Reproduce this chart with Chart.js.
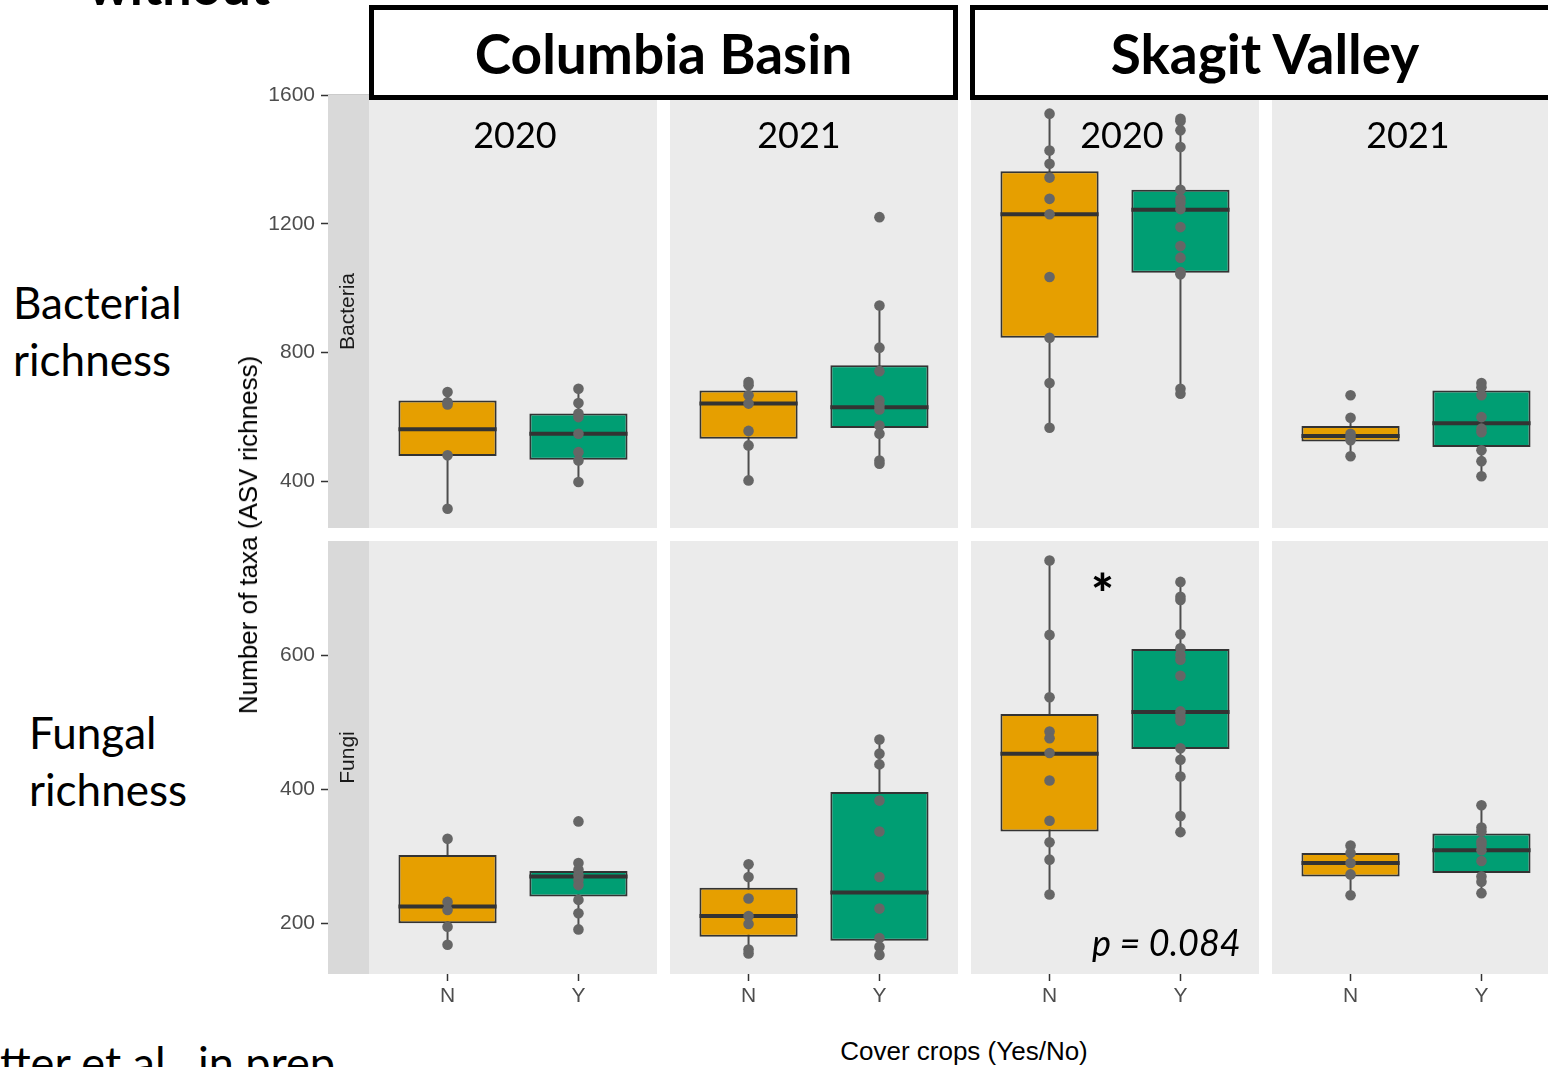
<!DOCTYPE html>
<html>
<head>
<meta charset="utf-8">
<script src="https://cdn.jsdelivr.net/npm/chart.js@4.4.1/dist/chart.umd.min.js"></script>
<style>
  html, body { margin: 0; padding: 0; background: #fff; overflow: hidden; }
  body { position: relative; width: 1548px; height: 1067px; }
  canvas { position: absolute; z-index: 1; }
  .txt { position: absolute; z-index: 4; white-space: nowrap; font-family: Lato, sans-serif; color: #000; line-height: 1; }
  .side { font-size: 44px; line-height: 57px; }
  .hdr { position: absolute; box-sizing: border-box; border: 5px solid #000; background: #fff; z-index: 5;
         display: flex; align-items: center; justify-content: center;
         font-family: Lato, sans-serif; font-weight: bold; font-size: 55px; }
  .year { font-size: 36px; transform: translate(-50%, -50%); }
  .axt { font-family: "Liberation Sans", Arial, sans-serif; font-size: 26px; transform: translate(-50%, -50%); }
</style>
</head>
<body>
<div class="txt" style="left:88px; top:-41px; font-size:52px; font-weight:bold;">without</div>
<div class="txt side" style="left:13px; top:274px;">Bacterial<br>richness</div>
<div class="txt side" style="left:29px; top:704px;">Fungal<br>richness</div>
<div class="txt" style="left:0px; top:1040px; font-size:45px;">tter et al., in prep</div>

<div class="hdr" style="left:369px; top:5px; width:589px; height:95px;">Columbia Basin</div>
<div class="hdr" style="left:970px; top:5px; width:590px; height:95px;">Skagit Valley</div>

<div class="txt axt" style="left:248px; top:535px; transform: translate(-50%, -50%) rotate(-90deg);">Number of taxa (ASV richness)</div>
<div class="txt axt" style="left:964px; top:1051px;">Cover crops (Yes/No)</div>

<div class="txt year" style="left:515px; top:134px;">2020</div>
<div class="txt year" style="left:799px; top:134px;">2021</div>
<div class="txt year" style="left:1122px; top:134px;">2020</div>
<div class="txt year" style="left:1408px; top:134px;">2021</div>

<div class="txt" style="left:1091px; top:566px; font-size:54px; font-weight:900;">*</div>
<div class="txt" style="left:1092px; top:924px; font-size:36px; font-style:italic;">p = 0.084</div>

<script>
// facets: columns are CB 2020, CB 2021, SV 2020, SV 2021; each entry is [N, Y]
const groups = ['N', 'Y'];
const taxa = ['Bacteria', 'Fungi'];
const boxColors = ['#E69F00', '#009E73'];

const bactTicks = [400, 800, 1200, 1600];
const fungTicks = [200, 400, 600];

const bactLower = [[314, 397], [402, 454], [566, 672], [477, 415]];
const bactQ1 = [[478, 466], [532, 565], [846, 1048], [523, 506]];
const bactMedian = [[561, 547], [641, 630], [1230, 1244], [540, 580]];
const bactQ3 = [[651, 610], [682, 760], [1364, 1306], [571, 682]];
const bactUpper = [[677, 687], [708, 946], [1543, 1527], [597, 705]];
const bactPointsN = [
    [677, 645, 638, 480, 314],
    [708, 698, 667, 641, 556, 511, 402],
    [1543, 1428, 1387, 1344, 1278, 1230, 1035, 846, 705, 566],
    [667, 597, 547, 537, 527, 477]
];
const bactPointsY = [
    [687, 643, 610, 599, 547, 490, 464, 397],
    [1221, 946, 815, 742, 651, 635, 623, 573, 547, 464, 454],
    [1527, 1519, 1491, 1439, 1306, 1278, 1266, 1246, 1190, 1131, 1095, 1050, 1043, 687, 672],
    [705, 692, 667, 599, 563, 552, 496, 462, 415]
];

const fungLower = [[168, 191], [155, 153], [243, 336], [242, 245]];
const fungQ1 = [[200, 240], [180, 174], [337, 460], [270, 275]];
const fungMedian = [[225, 270], [211, 246], [453, 515], [290, 309]];
const fungQ3 = [[302, 278], [253, 396], [512, 609], [305, 334]];
const fungUpper = [[326, 290], [288, 474], [741, 709], [316, 376]];
const fungPointsN = [
    [326, 232, 220, 195, 168],
    [288, 269, 237, 211, 199, 161, 155],
    [741, 630, 537, 486, 476, 454, 413, 353, 321, 295, 243],
    [316, 305, 290, 273, 242]
];
const fungPointsY = [
    [352, 290, 280, 272, 265, 257, 235, 215, 191],
    [474, 453, 437, 383, 337, 269, 222, 178, 165, 153],
    [709, 687, 682, 631, 610, 600, 593, 569, 516, 509, 502, 461, 444, 419, 360, 336],
    [376, 343, 337, 322, 317, 309, 293, 270, 262, 245]
];

// layout of the facet grid (pixels)
const panelLeft = [369, 670, 971, 1272];
const panelTop = [95, 541];
const panelW = 288;
const panelH = 433;
const yAxisW = 120;
const xAxisH = 45;
const pad = 14;
const stripW = 41;

const panelDecor = {
    id: 'panelDecor',
    beforeDraw(chart) {
        const a = chart.chartArea;
        const ctx = chart.ctx;
        ctx.save();
        ctx.fillStyle = '#EBEBEB';
        ctx.fillRect(a.left, a.top, a.right - a.left, a.bottom - a.top);
        ctx.restore();
    },
    afterDraw(chart, args, opts) {
        if (!opts.strip) {
            return;
        }
        const a = chart.chartArea;
        const ctx = chart.ctx;
        ctx.save();
        ctx.fillStyle = '#D9D9D9';
        ctx.fillRect(a.left - stripW, a.top, stripW, a.bottom - a.top);
        ctx.translate(a.left - stripW / 2, (a.top + a.bottom) / 2);
        ctx.rotate(-Math.PI / 2);
        ctx.fillStyle = '#1A1A1A';
        ctx.font = '21px "Liberation Sans"';
        ctx.textAlign = 'center';
        ctx.textBaseline = 'middle';
        ctx.fillText(opts.strip, 0, 0);
        ctx.restore();
    }
};

// whiskers under the boxes, medians over them
const boxParts = {
    id: 'boxParts',
    beforeDatasetDraw(chart, args) {
        const ds = chart.data.datasets[args.index];
        if (!ds.median) {
            return;
        }
        const x = chart.scales.x;
        const y = chart.scales.y;
        const ctx = chart.ctx;
        ctx.save();
        ctx.strokeStyle = '#4D4D4D';
        ctx.lineWidth = 2;
        ds.data.forEach(function (d, i) {
            const px = x.getPixelForValue(d.x);
            ctx.beginPath();
            ctx.moveTo(px, y.getPixelForValue(ds.lower[i]));
            ctx.lineTo(px, y.getPixelForValue(ds.upper[i]));
            ctx.stroke();
        });
        ctx.restore();
    },
    afterDatasetDraw(chart, args) {
        const ds = chart.data.datasets[args.index];
        if (!ds.median) {
            return;
        }
        const y = chart.scales.y;
        const ctx = chart.ctx;
        ctx.save();
        ctx.strokeStyle = '#333333';
        ctx.lineWidth = 4;
        args.meta.data.forEach(function (bar, i) {
            const py = y.getPixelForValue(ds.median[i]);
            ctx.beginPath();
            ctx.moveTo(bar.x - bar.width / 2, py);
            ctx.lineTo(bar.x + bar.width / 2, py);
            ctx.stroke();
        });
        ctx.restore();
    }
};

function fixSize(size, key) {
    return function (scale) {
        scale.paddingTop = 0;
        scale.paddingBottom = 0;
        scale.paddingLeft = 0;
        scale.paddingRight = 0;
        if (scale.options.display) {
            scale[key] = size;
        }
    };
}

function makeDatasets(lower, q1, median, q3, upper, ptsN, ptsY, c) {
    const points = [];
    ptsN[c].forEach(function (v) { points.push({ x: 1, y: v }); });
    ptsY[c].forEach(function (v) { points.push({ x: 2, y: v }); });
    return [
        {
            type: 'scatter',
            data: points,
            pointRadius: 5.3,
            pointBackgroundColor: '#666666',
            pointBorderColor: '#666666',
            pointBorderWidth: 0
        },
        {
            type: 'bar',
            data: groups.map(function (g, i) { return { x: i + 1, y: [q1[c][i], q3[c][i]] }; }),
            backgroundColor: boxColors,
            borderColor: '#333333',
            borderWidth: 2,
            borderSkipped: false,
            categoryPercentage: 1,
            barPercentage: 0.75,
            lower: lower[c],
            upper: upper[c],
            median: median[c]
        }
    ];
}

function makePanel(row, col) {
    const left = panelLeft[col] - (col === 0 ? yAxisW : 0);
    const top = panelTop[row] - pad;
    const canvas = document.createElement('canvas');
    canvas.width = panelW + (col === 0 ? yAxisW : 0);
    canvas.height = panelH + pad + (row === 1 ? xAxisH : pad);
    canvas.style.left = left + 'px';
    canvas.style.top = top + 'px';
    document.body.appendChild(canvas);

    const datasets = row === 0
        ? makeDatasets(bactLower, bactQ1, bactMedian, bactQ3, bactUpper, bactPointsN, bactPointsY, col)
        : makeDatasets(fungLower, fungQ1, fungMedian, fungQ3, fungUpper, fungPointsN, fungPointsY, col);
    const yTicks = row === 0 ? bactTicks : fungTicks;

    new Chart(canvas.getContext('2d'), {
        type: 'bar',
        data: { datasets: datasets },
        plugins: [panelDecor, boxParts],
        options: {
            responsive: false,
            animation: false,
            events: [],
            devicePixelRatio: 1,
            layout: {
                autoPadding: false,
                padding: { top: pad, bottom: row === 1 ? 0 : pad, left: 0, right: 0 }
            },
            plugins: {
                legend: { display: false },
                tooltip: { enabled: false },
                panelDecor: { strip: col === 0 ? taxa[row] : null }
            },
            scales: {
                x: {
                    type: 'linear',
                    min: 0.4,
                    max: 2.6,
                    bounds: 'data',
                    offset: false,
                    display: row === 1,
                    border: { display: false },
                    grid: {
                        display: true, offset: false, drawOnChartArea: false,
                        tickLength: 7, tickColor: '#333333', tickWidth: 1.5
                    },
                    ticks: {
                        font: { family: 'Liberation Sans', size: 21 },
                        color: '#4D4D4D',
                        padding: 3,
                        maxRotation: 0,
                        autoSkip: false,
                        callback: function (v, i) { return groups[i]; }
                    },
                    afterBuildTicks: function (scale) {
                        scale.ticks = groups.map(function (g, i) { return { value: i + 1 }; });
                    },
                    afterFit: fixSize(xAxisH, 'height')
                },
                y: {
                    type: 'linear',
                    min: row === 0 ? 254 : 124.5,
                    max: row === 0 ? 1601 : 770,
                    bounds: 'data',
                    display: col === 0,
                    border: { display: false },
                    grid: {
                        display: true, drawOnChartArea: false,
                        tickLength: 48, tickColor: '#333333', tickWidth: 1.5
                    },
                    ticks: {
                        font: { family: 'Liberation Sans', size: 21 },
                        color: '#4D4D4D',
                        padding: 6,
                        callback: function (v) { return String(v); }
                    },
                    afterBuildTicks: function (scale) {
                        scale.ticks = yTicks.map(function (v) { return { value: v }; });
                    },
                    afterFit: fixSize(yAxisW, 'width')
                }
            }
        }
    });
}

[0, 1].forEach(function (row) {
    [0, 1, 2, 3].forEach(function (col) {
        makePanel(row, col);
    });
});
</script>
</body>
</html>
